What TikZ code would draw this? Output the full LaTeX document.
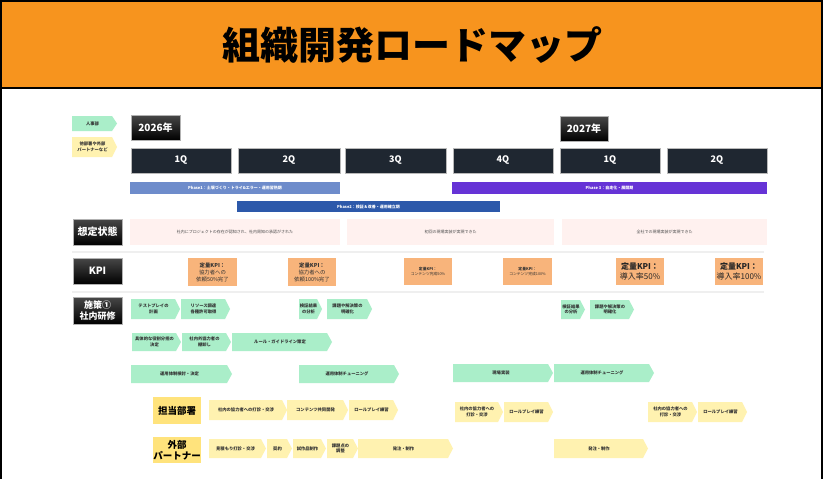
\documentclass[tikz,border=0pt]{standalone}
\usepackage{fontspec}
\setmainfont{Noto Sans CJK JP}
\usetikzlibrary{shadows}
\definecolor{hdr}{HTML}{F7941E}
\definecolor{qnavy}{HTML}{1F2731}
\definecolor{phA}{HTML}{6E8CCB}
\definecolor{phB}{HTML}{2D59AA}
\definecolor{phC}{HTML}{6633D6}
\definecolor{pinkbg}{HTML}{FFF1EF}
\definecolor{kpiorg}{HTML}{F8B47B}
\definecolor{mint}{HTML}{AAEEC9}
\definecolor{paley}{HTML}{FFF2B0}
\definecolor{labely}{HTML}{FFE37C}
\definecolor{sepgray}{HTML}{EFEFEF}
\newcommand{\rmchev}[7]{%
  \fill[#6] (#2,#3) -- ({#4-5},#3) -- (#4,{(#3+#5)/2}) -- ({#4-5},#5) -- (#2,#5) -- cycle;
  \node[itemtext] (#1) at ({(#2+#4)/2-2},{(#3+#5)/2}) {#7};}
\newcommand{\rmbox}[7]{%
  \node[#6, minimum width={#4-#2}, minimum height={#5-#3}] (#1) at ({(#2+#4)/2},{(#3+#5)/2}) {#7};}
\tikzset{
  itemtext/.style={inner sep=0pt, align=center, font=\fontsize{4.3}{5.6}\selectfont\bfseries, text=black!80},
  blkbox/.style={inner sep=0pt, align=center, top color=black!72, bottom color=black, draw=gray!60, line width=0.6pt, text=white, font=\fontsize{10}{12}\selectfont\bfseries},
  qbox/.style={inner sep=0pt, fill=qnavy, draw=gray!55, line width=0.5pt, text=white, font=\fontsize{9}{10}\selectfont\bfseries},
  phbox/.style={inner sep=0pt, text=white, font=\fontsize{4}{5}\selectfont\bfseries},
  pinkbox/.style={inner sep=0pt, fill=pinkbg, text=black!70, font=\fontsize{4}{5}\selectfont},
  kpibox/.style={inner sep=0pt, fill=kpiorg, align=center, text=black!80, font=\fontsize{5.4}{7}\selectfont},
  kpibig/.style={inner sep=0pt, fill=kpiorg, align=center, text=black!85, font=\fontsize{8}{10.5}\selectfont},
  kpitiny/.style={inner sep=0pt, fill=kpiorg, align=center, text=black!80, font=\fontsize{3.8}{5}\selectfont},
  ylabel/.style={inner sep=0pt, fill=labely, align=center, text=black, font=\fontsize{9.5}{11.5}\selectfont\bfseries},
  sep/.style={draw=sepgray, line width=2pt},
}
\begin{document}
\begin{tikzpicture}[x=1pt,y=-1pt]
\useasboundingbox (0,0) rectangle (825,479);
\fill[white] (0,0) rectangle (825,479);
% header
\fill[hdr] (1,1) rectangle (822,88);
\draw[black, line width=1.5pt] (1,1) -- (822,1);
\draw[black, line width=1.5pt] (1,88) -- (822,88);
\draw[black, line width=1.5pt] (1,0) -- (1,479);
\draw[black, line width=1.5pt] (822,0) -- (822,479);
\node[font=\fontsize{38}{40}\selectfont\bfseries, text=black] (title) at (412,45) {組織開発ロードマップ};
% legend
\rmchev{lgA}{72}{116}{117}{131}{mint}{人事部}
\rmchev{lgB}{72}{137}{117}{157}{paley}{他部署や外部\\パートナーなど}
% years
\rmbox{y26}{131}{115}{180}{140}{blkbox}{2026年}
\rmbox{y27}{560}{116}{608}{141}{blkbox}{2027年}
% quarters
\rmbox{q1}{131}{148}{231}{173}{qbox}{1Q}
\rmbox{q2}{238}{148}{340}{173}{qbox}{2Q}
\rmbox{q3}{345}{148}{446}{173}{qbox}{3Q}
\rmbox{q4}{453}{148}{553}{173}{qbox}{4Q}
\rmbox{q5}{560}{148}{660}{173}{qbox}{1Q}
\rmbox{q6}{667}{148}{767}{173}{qbox}{2Q}
% phases
\rmbox{ph1}{130}{182}{340}{194}{phbox, fill=phA}{Phase1：土壌づくり・トライ\&エラー・運用習熟期}
\rmbox{ph3}{452}{182}{767}{194}{phbox, fill=phC}{Phase 3：自走化・展開期}
\rmbox{ph2}{237}{201}{500}{212}{phbox, fill=phB}{Phase2：検証＆改善・運用確立期}
% assumed state
\rmbox{lbS}{73}{219}{122}{245}{blkbox}{想定状態}
\rmbox{st1}{130}{219}{340}{245}{pinkbox}{社内にプロジェクトの存在が認知され、社内周知の承認がされた}
\rmbox{st2}{347}{219}{554}{245}{pinkbox}{初回の現場実装が実現できた}
\rmbox{st3}{562}{219}{767}{245}{pinkbox}{全社での現場実装が実現できた}
\draw[sep] (72,252) -- (764,252);
% KPI
\rmbox{lbK}{73}{258}{122}{284}{blkbox}{KPI}
\rmbox{k1}{188}{258}{237}{286}{kpibox}{\textbf{定量KPI：}\\協力者への\\依頼50\%完了}
\rmbox{k2}{288}{258}{336}{286}{kpibox}{\textbf{定量KPI：}\\協力者への\\依頼100\%完了}
\rmbox{k3}{404}{258}{452}{285}{kpitiny}{\textbf{定量KPI：}\\コンテンツ完成50\%}
\rmbox{k4}{503}{258}{552}{285}{kpitiny}{\textbf{定量KPI：}\\コンテンツ完成100\%}
\rmbox{k5}{616}{258}{664}{285}{kpibig}{\textbf{定量KPI：}\\導入率50\%}
\rmbox{k6}{715}{258}{763}{285}{kpibig}{\textbf{定量KPI：}\\導入率100\%}
\draw[sep] (72,292) -- (764,292);
% measures
\rmbox{lbM}{73}{297}{122}{324}{blkbox, font=\fontsize{9}{11}\selectfont\bfseries}{施策①\\社内研修}
\rmchev{a1}{131}{299}{180}{319}{mint}{テストプレイの\\計画}
\rmchev{a2}{181}{299}{230}{319}{mint}{リソース調達\\各種許可取得}
\rmchev{a3}{299}{299}{322}{319}{mint}{検証結果\\の分析}
\rmchev{a4}{327}{299}{372}{319}{mint}{課題や解決策の\\明確化}
\rmchev{a5}{561}{300}{585}{319}{mint}{検証結果\\の分析}
\rmchev{a6}{590}{300}{634}{319}{mint}{課題や解決策の\\明確化}
\rmchev{b1}{132}{333}{181}{351}{mint}{具体的な役割分担の\\決定}
\rmchev{b2}{182}{333}{231}{351}{mint}{社内外協力者の\\棚卸し}
\rmchev{b3}{232}{333}{332}{351}{mint}{ルール・ガイドライン策定}
\rmchev{c1}{131}{365}{232}{383}{mint}{運用体制検討・決定}
\rmchev{c2}{299}{365}{399}{383}{mint}{運用体制チューニング}
\rmchev{c3}{453}{364}{553}{382}{mint}{現場実装}
\rmchev{c4}{554}{364}{654}{382}{mint}{運用体制チューニング}
% department
\rmbox{lbD}{153}{397}{201}{424}{ylabel}{担当部署}
\rmchev{d1}{209}{400}{287}{420}{paley}{社内の協力者への打診・交渉}
\rmchev{d2}{287}{400}{348}{420}{paley}{コンテンツ共同開発}
\rmchev{d3}{349}{400}{398}{420}{paley}{ロールプレイ練習}
\rmchev{d4}{455}{402}{503}{422}{paley}{社内の協力者への\\打診・交渉}
\rmchev{d5}{504}{402}{553}{422}{paley}{ロールプレイ練習}
\rmchev{d6}{648}{402}{697}{422}{paley}{社内の協力者への\\打診・交渉}
\rmchev{d7}{698}{402}{747}{422}{paley}{ロールプレイ練習}
% external partner
\rmbox{lbE}{153}{437}{201}{463}{ylabel}{外部\\パートナー}
\rmchev{e1}{209}{439}{266}{458}{paley}{見積もり打診・交渉}
\rmchev{e2}{267}{439}{292}{458}{paley}{契約}
\rmchev{e3}{293}{439}{326}{458}{paley}{試作品制作}
\rmchev{e4}{327}{439}{358}{458}{paley}{課題点の\\調整}
\rmchev{e5}{358}{439}{453}{458}{paley}{発注・制作}
\rmchev{e6}{554}{439}{648}{458}{paley}{発注・制作}
\end{tikzpicture}
\end{document}
